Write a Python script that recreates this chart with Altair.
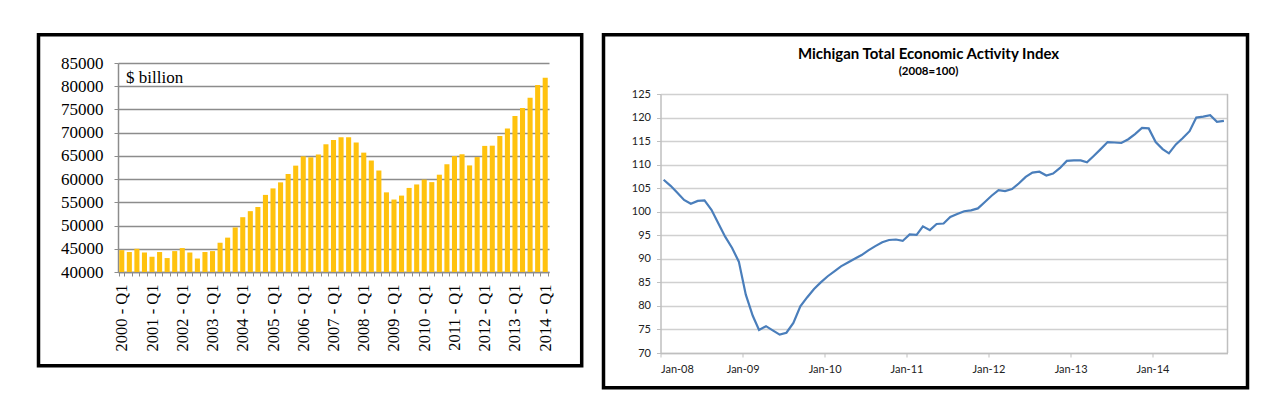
import altair as alt
import pandas as pd

# ---------------- data: left chart (quarterly, $ billion) ----------------
YEARS_Q = list(range(2000, 2015))
QUARTERS = [f"{y} - Q{q}" for y in YEARS_Q for q in (1, 2, 3, 4)][:57]
GDP = [
    44700, 44300, 45000, 44200, 43300, 44300, 43000, 44500,
    45150, 44200, 42900, 44300, 44500, 46300, 47400, 49600,
    51800, 53100, 54000, 56600, 58000, 59300, 61100, 62900,
    64900, 64700, 65300, 67500, 68400, 69000, 69000, 67900,
    65700, 64000, 61850, 57150, 55600, 56450, 58100, 58850,
    59900, 59350, 60950, 63200, 64950, 65350, 62950, 64750,
    67150, 67200, 69300, 70900, 73600, 75300, 77500, 80250,
    81800,
]
BAR_BASE = 40000
Y_TICKS_LEFT = list(range(40000, 85001, 5000))
UNIT_LABEL = "$ billion"

# ---------------- data: right chart (monthly index) ----------------
INDEX = [
    106.8, 105.5, 104.1, 102.5, 101.7, 102.3, 102.4, 100.4, 97.5, 94.7, 92.3, 89.4,
    82.4, 77.9, 74.9, 75.7, 74.8, 73.9, 74.3, 76.4, 79.9, 81.8, 83.6, 85.0,
    86.3, 87.4, 88.4, 89.2, 90.0, 90.8, 91.8, 92.7, 93.5, 94.0, 94.1, 93.8,
    95.2, 95.1, 96.9, 96.1, 97.4, 97.5, 98.9, 99.5, 100.1, 100.3, 100.7, 102.0,
    103.4, 104.6, 104.4, 104.8, 106.0, 107.4, 108.3, 108.5, 107.7, 108.1, 109.3, 110.8,
    110.9, 110.9, 110.5, 111.9, 113.3, 114.8, 114.7, 114.6, 115.4, 116.5, 117.8, 117.7,
    114.8, 113.3, 112.4, 114.3, 115.6, 117.1, 120.0, 120.2, 120.5, 119.1, 119.3,
]
MONTHS = pd.date_range("2008-01-01", periods=len(INDEX), freq="MS") + pd.Timedelta(days=14)
TICK_YEARS = list(range(2008, 2015))
Y_TICKS_RIGHT = list(range(70, 126, 5))
TITLE = "Michigan Total Economic Activity Index"
SUBTITLE = "(2008=100)"

SERIF = "Liberation Serif"
SANS = "Lato"

# ---------------- left chart ----------------
bar_df = pd.DataFrame({"quarter": QUARTERS, "value": GDP})

bars = alt.Chart(bar_df).mark_bar(color="#FFC20E").encode(
    x=alt.X(
        "quarter:N", sort=None, title=None,
        scale=alt.Scale(paddingInner=0.33, paddingOuter=0.165),
        axis=alt.Axis(
            labelAngle=-90, labelExpr="indexof(datum.label, 'Q1') >= 0 ? datum.label : ''",
            labelOverlap=False, labelFont=SERIF, labelFontSize=16.5, labelColor="#000000",
            labelPadding=8, tickSize=4, tickColor="#8c8c8c", tickBand="extent",
            domainColor="#8c8c8c", domainWidth=1.5, grid=False,
        ),
    ),
    y=alt.Y(
        "value:Q", title=None,
        scale=alt.Scale(domain=[40000, 85000], zero=False, nice=False),
        axis=alt.Axis(
            values=Y_TICKS_LEFT, format="d", labelFont=SERIF, labelFontSize=17,
            labelColor="#000000", labelPadding=11, tickSize=4, tickColor="#8c8c8c",
            domainColor="#8c8c8c", domainWidth=1.5, gridColor="#8c8c8c", gridWidth=1.5,
        ),
    ),
    y2=alt.datum(BAR_BASE),
)

unit_text = alt.Chart(pd.DataFrame({"t": [UNIT_LABEL]})).mark_text(
    align="left", baseline="alphabetic", font=SERIF, fontSize=17, color="#000000"
).encode(text="t:N", x=alt.value(8), y=alt.value(20))

frame_left = alt.Chart(pd.DataFrame({"f": [0]})).mark_rect(
    fill="transparent", stroke="#000000", strokeWidth=3.5
).encode(x=alt.value(-79.5), x2=alt.value(463.7), y=alt.value(-28.3), y2=alt.value(302.7))

left = alt.layer(frame_left, bars, unit_text).properties(width=431, height=209)

# ---------------- right chart ----------------
line_df = pd.DataFrame({"date": MONTHS, "idx": INDEX})

line = alt.Chart(line_df).mark_line(color="#4A7EBB", strokeWidth=2.2).encode(
    x=alt.X(
        "date:T", title=None,
        scale=alt.Scale(domain=[alt.DateTime(year=2008, month=1, date=1),
                                alt.DateTime(year=2014, month=12, date=1)]),
        axis=alt.Axis(
            values=[alt.DateTime(year=y, month=1, date=1) for y in TICK_YEARS],
            format="%b-%y", labelFont=SANS, labelFontSize=11, labelColor="#222222",
            labelPadding=6, tickSize=4, tickColor="#bfbfbf", domainColor="#bfbfbf",
            domainWidth=1.5, grid=False,
        ),
    ),
    y=alt.Y(
        "idx:Q", title=None,
        scale=alt.Scale(domain=[70, 125], zero=False, nice=False, range=[290, 31]),
        axis=alt.Axis(
            values=Y_TICKS_RIGHT, labelFont=SANS, labelFontSize=11, labelColor="#222222",
            labelPadding=6, tickSize=4, tickColor="#bfbfbf", domainColor="#bfbfbf",
            domainWidth=1.5, gridColor="#d0d0d0", gridWidth=1.5,
        ),
    ),
)

plot_edge = alt.Chart(pd.DataFrame({"f": [0]})).mark_rule(
    color="#bfbfbf", strokeWidth=1.5
).encode(x=alt.value(567), y=alt.value(31), y2=alt.value(290))

frame_right = alt.Chart(pd.DataFrame({"f": [0]})).mark_rect(
    fill="transparent", stroke="#000000", strokeWidth=3.5
).encode(x=alt.value(-57), x2=alt.value(587), y=alt.value(-28.3), y2=alt.value(324.7))

title_df = pd.DataFrame({"t": [TITLE]})
title_text = alt.Chart(title_df).mark_text(
    align="center", baseline="alphabetic", font=SANS, fontSize=15, fontWeight="bold",
    color="#000000"
).encode(text="t:N", x=alt.value(268), y=alt.value(-4))

sub_text = alt.Chart(pd.DataFrame({"t": [SUBTITLE]})).mark_text(
    align="center", baseline="alphabetic", font=SANS, fontSize=11.5, fontWeight="bold",
    color="#000000"
).encode(text="t:N", x=alt.value(268), y=alt.value(11.5))

right = alt.layer(frame_right, plot_edge, line, title_text, sub_text).properties(
    width=567, height=290,
)

chart = alt.hconcat(left, right, spacing=16.5).properties(
    padding={"left": 28, "top": 24, "right": 0, "bottom": 0},
    background="white",
).configure_view(stroke="transparent")

chart.save("out.html", embed_options={"renderer": "svg", "actions": False})
